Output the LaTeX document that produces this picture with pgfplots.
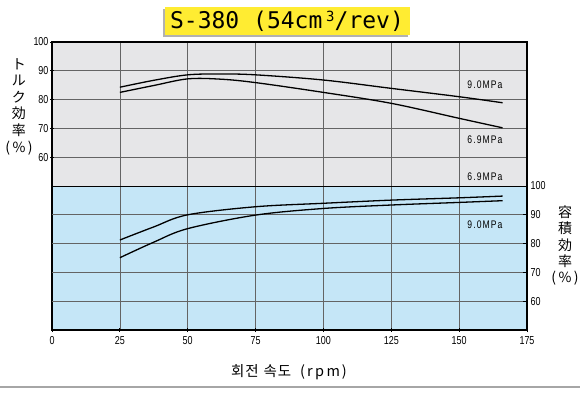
\documentclass[border=0pt]{standalone}
\usepackage{pgfplots}
\pgfplotsset{compat=1.18}
\usepackage{fontspec}
\setmainfont{Liberation Sans}
\newfontfamily\narrow[FakeStretch=0.78]{Liberation Sans}
\newfontfamily\narrowsp[FakeStretch=0.78, LetterSpace=10]{Liberation Sans}
\newfontfamily\jp{Noto Sans CJK JP}
\newfontfamily\kr[LetterSpace=6]{Noto Sans CJK KR}
\newfontfamily\monot{DejaVu Sans Mono}
\definecolor{panelgray}{RGB}{230,230,232}
\definecolor{panelblue}{RGB}{197,230,247}
\definecolor{gridc}{RGB}{100,100,100}
\definecolor{titley}{RGB}{255,236,50}
\begin{document}
\begin{tikzpicture}[x=1pt,y=1pt]
\path[use as bounding box] (0,0) rectangle (580,392);
% panel backgrounds
\fill[panelgray] (52,206) rectangle (527,350);
\fill[panelblue] (52,62) rectangle (527,206);
% title
\fill[gray!60] (163,355) rectangle (408,383);
\fill[titley] (165,357) rectangle (410,385);
\node[font=\monot\fontsize{23}{23}\selectfont, inner sep=0pt] at (287,370.5) {S-380 (54cm\,\raisebox{0.55ex}{\fontsize{14}{14}\selectfont 3}/rev)};
% bottom rule
\draw[gray!70, line width=2pt] (0,5) -- (580,5);
\begin{axis}[
  at={(52pt,62pt)}, anchor=south west,
  width=475pt, height=288pt, scale only axis,
  xmin=0, xmax=175, ymin=0, ymax=100,
  xtick={0,25,...,175},
  ytick={60,70,80,90,100},
  extra y ticks={10,20,30,40},
  extra y tick style={yticklabels={}, major tick length=0pt, grid=major},
  xmajorgrids, ymajorgrids,
  grid style={gridc, line width=0.7pt},
  axis line style={black, line width=1.2pt},
  tick style={black, line width=0.8pt},
  major tick length=4pt,
  tick align=center,
  xtick pos=bottom, ytick pos=left,
  /pgf/number format/assume math mode=true,
  ticklabel style={font=\narrow\fontsize{11.5}{11.5}\selectfont},
  yticklabel style={xshift=2pt},
  xticklabel style={yshift=-1pt},
  clip=false,
]
\draw[black, line width=1pt] (axis cs:0,50) -- (axis cs:175,50);
% torque efficiency, 9.0 MPa
\addplot[black, line width=1.3pt, smooth, tension=0.55] coordinates {
 (25,84.3) (37.5,86.7) (50,88.6) (62,88.9) (75,88.6) (100,86.8) (125,83.9) (150,81.0) (166,78.9)};
% torque efficiency, 6.9 MPa
\addplot[black, line width=1.3pt, smooth, tension=0.55] coordinates {
 (25,82.5) (37.5,84.9) (50,87.2) (62,87.1) (75,85.9) (100,82.5) (125,78.7) (150,73.5) (166,70.2)};
% volumetric efficiency, 6.9 MPa (plotted at value-50)
\addplot[black, line width=1.3pt, smooth, tension=0.55] coordinates {
 (25,31.25) (37.5,35.8) (50,40.0) (75,42.8) (100,44.0) (125,45.1) (150,45.9) (166,46.5)};
% volumetric efficiency, 9.0 MPa
\addplot[black, line width=1.3pt, smooth, tension=0.55] coordinates {
 (25,25.1) (37.5,30.5) (50,35.2) (75,39.9) (100,42.2) (125,43.4) (150,44.3) (166,44.9)};
\node[font=\narrowsp\fontsize{11}{11}\selectfont] at (axis cs:159.5,85.1) {9.0MPa};
\node[font=\narrowsp\fontsize{11}{11}\selectfont] at (axis cs:159.5,66.0) {6.9MPa};
\node[font=\narrowsp\fontsize{11}{11}\selectfont] at (axis cs:159.5,53.1) {6.9MPa};
\node[font=\narrowsp\fontsize{11}{11}\selectfont] at (axis cs:159.5,36.5) {9.0MPa};
\end{axis}
\begin{axis}[
  at={(52pt,62pt)}, anchor=south west,
  width=475pt, height=288pt, scale only axis,
  xmin=0, xmax=175, ymin=0, ymax=100,
  axis x line=none, axis y line*=right,
  axis line style={black, line width=1.2pt},
  ytick={10,20,30,40,50},
  yticklabels={60,70,80,90,100},
  tick style={black, line width=0.8pt},
  major tick length=4pt, tick align=inside,
  /pgf/number format/assume math mode=true,
  ticklabel style={font=\narrow\fontsize{11.5}{11.5}\selectfont},
  yticklabel style={xshift=0pt},
]
\addplot[draw=none] coordinates {(0,0)};
\end{axis}
% axis titles
\node[font=\jp\fontsize{14}{16.6}\selectfont, align=center, inner sep=0pt] at (19,285.5) {ト\\ル\\ク\\効\\率\\(\,\%\,)};
\node[font=\jp\fontsize{14}{16.3}\selectfont, align=center, inner sep=0pt] at (565,146.5) {容\\積\\効\\率\\(\,\%\,)};
\node[font=\kr\fontsize{14.5}{14.5}\selectfont, inner sep=0pt] at (289,20) {회전\hspace{5pt}속도\hspace{9pt}(\hspace{2pt}r\,p\,m\hspace{2pt})};
\end{tikzpicture}
\end{document}
